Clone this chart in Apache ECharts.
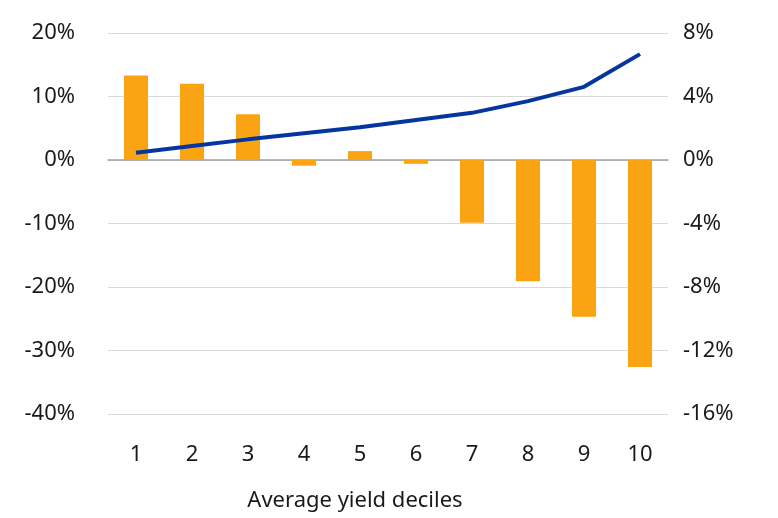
<!DOCTYPE html>
<html><head><meta charset="utf-8">
<script src="https://cdn.jsdelivr.net/npm/echarts@6/dist/echarts.min.js"></script>
<style>html,body{margin:0;padding:0;background:#fff}#c{width:778px;height:518px}</style>
</head><body><div id="c"></div>
<script>
const categories = ['1','2','3','4','5','6','7','8','9','10'];
const barValues = [13.3, 12.0, 7.2, -0.9, 1.4, -0.6, -9.9, -19.1, -24.7, -32.6];
const lineValues = [0.46, 0.88, 1.3, 1.68, 2.06, 2.52, 2.97, 3.71, 4.61, 6.67];
const xTitle = 'Average yield deciles';

const font = 'Noto Sans';
const fs = 22;
const chart = echarts.init(document.getElementById('c'));
chart.setOption({
  animation: false,
  textStyle: {fontFamily: font},
  grid: {left: 108, right: 110, top: 33, bottom: 104, outerBoundsMode: 'none', containLabel: false},
  xAxis: {
    type: 'category', data: categories,
    axisLine: {onZero: true, lineStyle: {color: '#a0a0a0', width: 1.5}},
    axisTick: {show: false},
    axisLabel: {color: '#1a1a1a', fontSize: fs, fontFamily: font, margin: 30, interval: 0}
  },
  yAxis: [{
    type: 'value', min: -40, max: 20, interval: 10,
    axisLine: {show: false}, axisTick: {show: false},
    axisLabel: {formatter: '{value}%', color: '#1a1a1a', fontSize: fs, fontFamily: font, margin: 33},
    splitLine: {lineStyle: {color: '#d9d9d9', width: 1}}
  }, {
    type: 'value', min: -16, max: 8, interval: 4,
    axisLine: {show: false}, axisTick: {show: false},
    axisLabel: {formatter: '{value}%', color: '#1a1a1a', fontSize: fs, fontFamily: font, margin: 15},
    splitLine: {show: false}
  }],
  graphic: [{
    type: 'text', x: 355, y: 490,
    style: {text: xTitle, fontSize: fs, fontFamily: font, fill: '#1a1a1a', textAlign: 'center'}
  }],
  series: [{
    type: 'bar', data: barValues, yAxisIndex: 0, barWidth: 24,
    itemStyle: {color: '#FAA413'}
  }, {
    type: 'line', data: lineValues, yAxisIndex: 1, symbol: 'none',
    lineStyle: {color: '#0536A0', width: 4}
  }]
});
</script></body></html>
